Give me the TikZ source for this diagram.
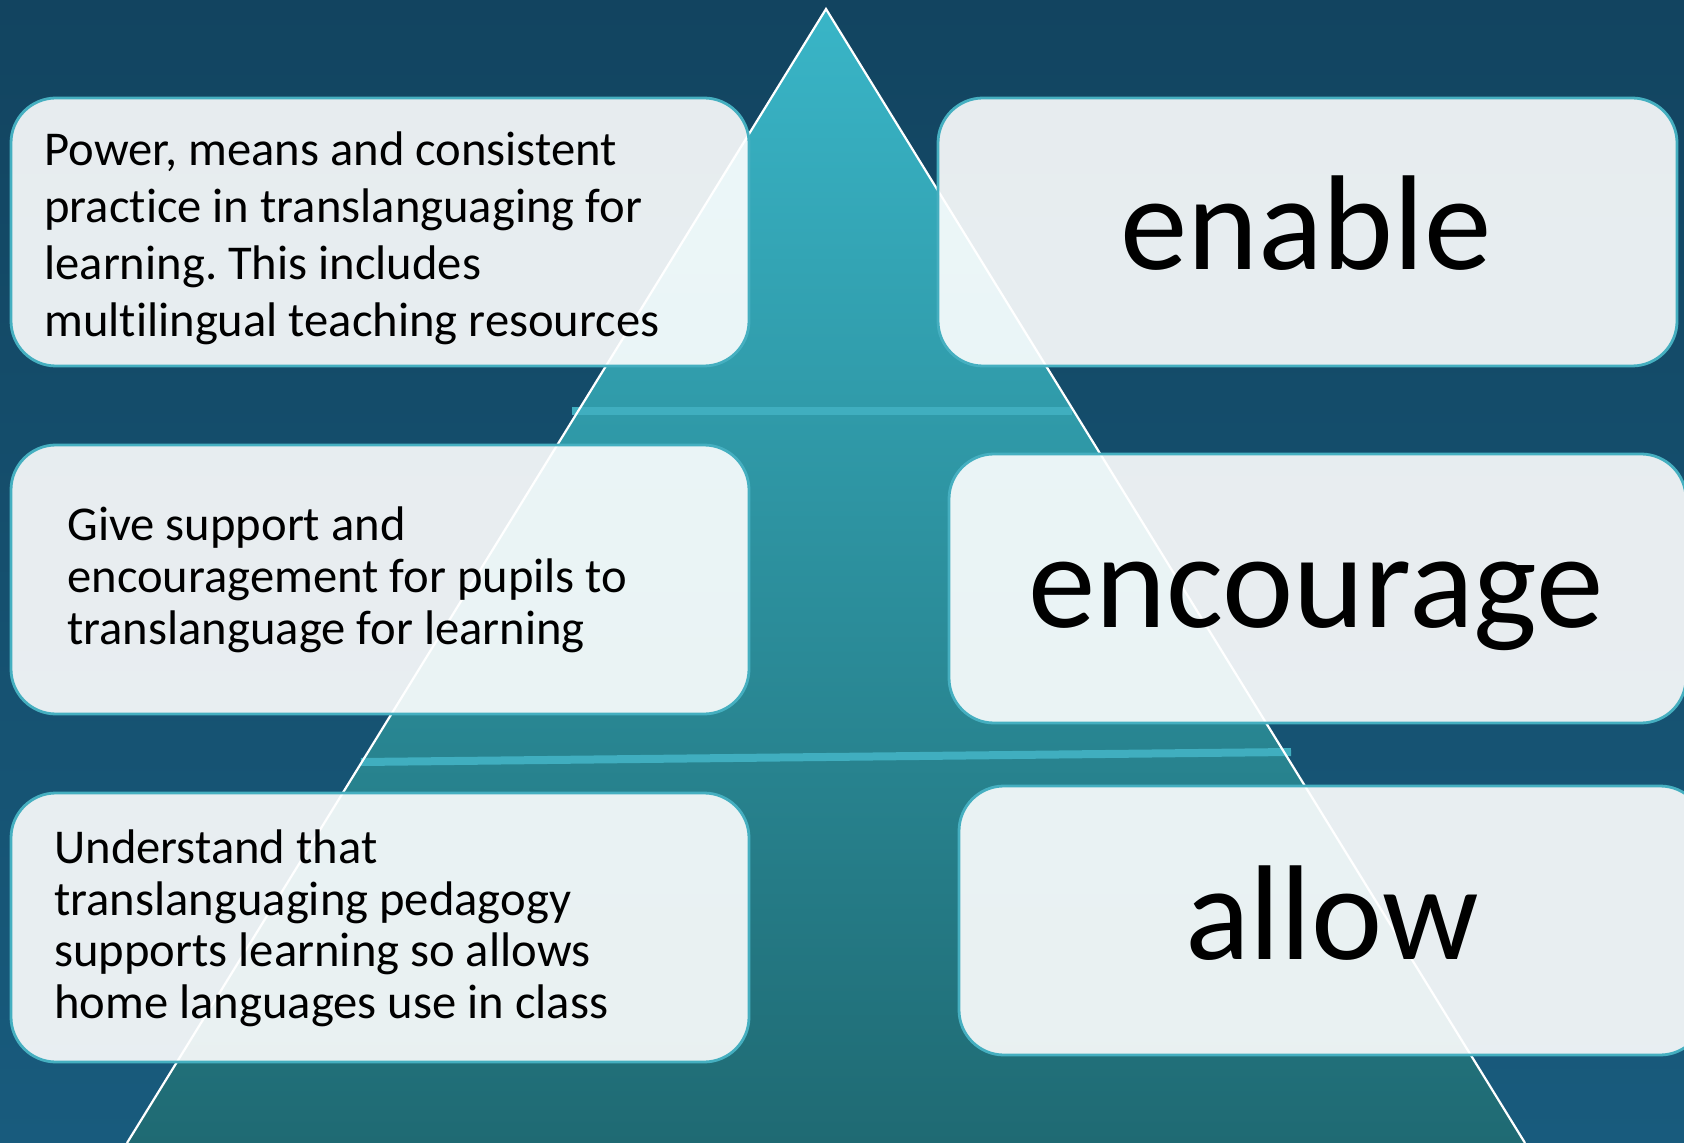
\documentclass[tikz,border=0pt]{standalone}
\usepackage{fontspec}
\setmainfont[Ligatures=NoCommon]{Carlito}
\frenchspacing
\definecolor{bgtop}{HTML}{124460}
\definecolor{bgbot}{HTML}{185B7D}
\definecolor{tritop}{HTML}{39B5C7}
\definecolor{tribot}{HTML}{1F6A73}
\definecolor{barc}{HTML}{40AEBF}
\definecolor{edgec}{HTML}{45AFC0}
\begin{document}
\begin{tikzpicture}[x=0.5pt,y=-0.5pt,
  card/.style={draw=edgec, line width=1.4pt, fill=white, fill opacity=0.9,
    rounded corners=22.5pt, inner sep=0pt},
  smalltext/.style={anchor=base west, inner sep=0pt, align=left, text=black},
  bigword/.style={anchor=base, inner sep=0pt, text=black,
    font=\fontsize{67.5}{80}\selectfont},
  bar/.style={draw=barc, line width=4pt},
  triedge/.style={draw=white, line width=1.1pt, line join=miter}
]
\useasboundingbox (0,0) rectangle (1684,1143);
\clip (0,0) rectangle (1684,1143);
% background
\shade[top color=bgtop, bottom color=bgbot] (0,0) rectangle (1684,1143);
% pyramid
\coordinate (apex) at (826,9);
\coordinate (bl) at (127,1143);
\coordinate (br) at (1525,1143);
\shade[top color=tritop, bottom color=tribot] (apex) -- (br) -- (bl) -- cycle;
% level bars
\coordinate (b1l) at (572,411);
\coordinate (b1r) at (1072,411);
\coordinate (b2l) at (361,762);
\coordinate (b2r) at (1291,752);
\draw[bar] (b1l) -- (b1r);
\draw[bar] (b2l) -- (b2r);
\draw[triedge] (bl) -- (apex) -- (br);
% cards
\node[card, minimum width=369pt, minimum height=134pt] (L1) at (380,232) {};
\node[card, minimum width=369pt, minimum height=134.5pt] (L2) at (380,579.5) {};
\node[card, minimum width=369pt, minimum height=134.5pt] (L3) at (380,927.5) {};
\node[card, minimum width=369.5pt, minimum height=134pt] (R1) at (1307.5,232) {};
\node[card, minimum width=368.5pt, minimum height=134.5pt] (R2) at (1317.5,588.5) {};
\node[card, minimum width=373pt, minimum height=134.5pt] (R3) at (1332,920.5) {};
% texts (base anchor = last line's baseline)
\node[smalltext, font=\fontsize{24.3}{28.65}\selectfont] (T1) at (44,337)
  {Power, means and consistent\\practice in translanguaging for\\learning. This includes\\multilingual teaching resources};
\node[smalltext, font=\fontsize{24.3}{25.75}\selectfont] (T2) at (67,644)
  {Give support and\\encouragement for pupils to\\translanguage for learning};
\node[smalltext, font=\fontsize{24.3}{25.75}\selectfont] (T3) at (54,1018)
  {Understand that\\translanguaging pedagogy\\supports learning so allows\\home languages use in class};
\node[bigword] (W1) at (1306,270) {enable};
\node[bigword] (W2) at (1316,627) {encourage};
\node[bigword] (W3) at (1332,959) {allow};
\end{tikzpicture}
\end{document}
